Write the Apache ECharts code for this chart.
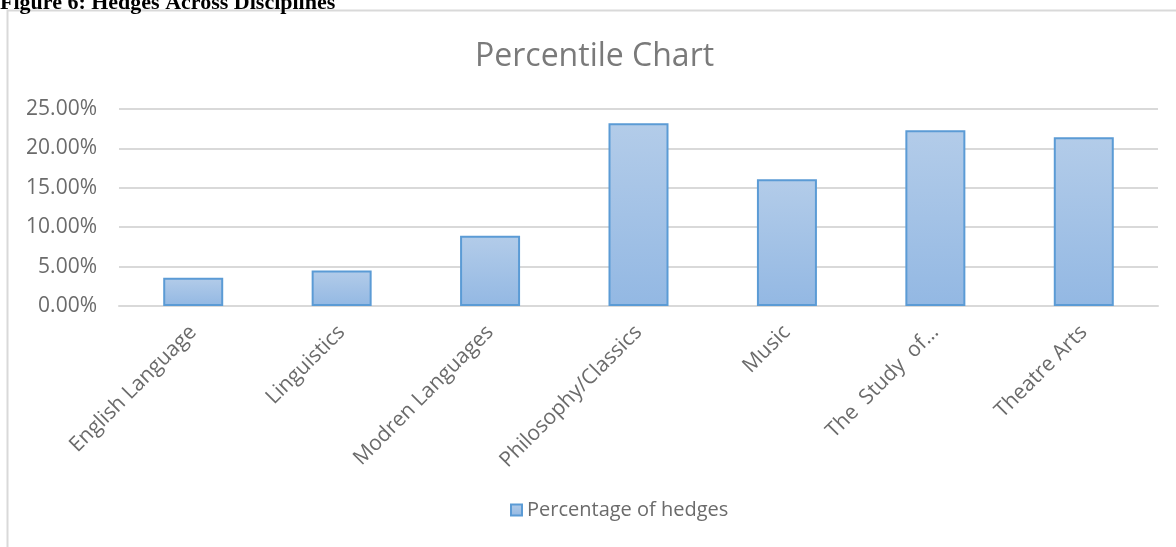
<!DOCTYPE html>
<html>
<head>
<meta charset="utf-8">
<style>
  html, body { margin: 0; padding: 0; background: #ffffff; }
  #chart { width: 1176px; height: 547px; }
</style>
<script src="https://cdn.jsdelivr.net/npm/echarts@6/dist/echarts.min.js"></script>
</head>
<body>
<div id="chart"></div>
<script>
// Disciplines on the category axis
const categories = [
  'English Language',
  'Linguistics',
  'Modren Languages',
  'Philosophy/Classics',
  'Music',
  'The  Study  of…',
  'Theatre Arts'
];
// Share of hedges per discipline (percent)
const hedgeShare = [3.6, 4.5, 8.9, 23.2, 16.1, 22.3, 21.4];
// Value axis ticks (percent)
const yTicks = [0, 5, 10, 15, 20, 25];

const seriesName = 'Percentage of hedges';
const captionText = 'Figure 6: Hedges Across Disciplines';
const titleText = 'Percentile Chart';

const textGrey = '#6b6b6b';
const uiFont = '"Open Sans", "Noto Sans", sans-serif';

const barFill = new echarts.graphic.LinearGradient(0, 0, 0, 1, [
  { offset: 0, color: '#b3cce9' },
  { offset: 1, color: '#93b8e3' }
]);

const chart = echarts.init(document.getElementById('chart'), null, { renderer: 'canvas' });

chart.setOption({
  animation: false,
  backgroundColor: '#ffffff',
  title: {
    text: titleText,
    left: 475,
    top: 41,
    padding: 0,
    textStyle: {
      fontFamily: uiFont,
      fontSize: 32,
      fontWeight: 'normal',
      color: '#7a7a7a'
    }
  },
  graphic: [
    {
      type: 'rect',
      silent: true,
      shape: { x: 7.5, y: 10.5, width: 1200, height: 560 },
      style: { fill: 'none', stroke: '#d9d9d9', lineWidth: 2 }
    },
    {
      type: 'text',
      silent: true,
      left: 0,
      top: -8,
      style: {
        text: captionText,
        font: 'bold 22px "Liberation Serif", "Times New Roman", serif',
        fill: '#000000'
      }
    }
  ],
  legend: {
    data: [seriesName],
    bottom: 22,
    left: 505,
    itemWidth: 11,
    itemHeight: 11,
    itemGap: 6,
    icon: 'rect',
    textStyle: {
      fontFamily: uiFont,
      fontSize: 20,
      color: textGrey
    }
  },
  grid: {
    left: 119,
    right: 18,
    top: 109,
    bottom: 241,
    containLabel: false
  },
  xAxis: {
    type: 'category',
    data: categories,
    axisTick: { show: false },
    axisLine: { show: true, lineStyle: { color: '#d9d9d9', width: 2 } },
    axisLabel: {
      rotate: 45,
      interval: 0,
      margin: 23,
      fontFamily: uiFont,
      fontSize: 21,
      color: textGrey
    }
  },
  yAxis: {
    type: 'value',
    min: yTicks[0],
    max: yTicks[yTicks.length - 1],
    interval: yTicks[1] - yTicks[0],
    axisLine: { show: false },
    axisTick: { show: false },
    splitLine: { lineStyle: { color: '#d9d9d9', width: 2 } },
    axisLabel: {
      margin: 22,
      fontFamily: uiFont,
      fontSize: 21,
      color: textGrey,
      formatter: v => v.toFixed(2) + '%'
    }
  },
  series: [
    {
      name: seriesName,
      type: 'bar',
      data: hedgeShare,
      barWidth: 60,
      itemStyle: {
        color: barFill,
        borderColor: '#5b9bd5',
        borderWidth: 2
      }
    }
  ]
});
</script>
</body>
</html>
